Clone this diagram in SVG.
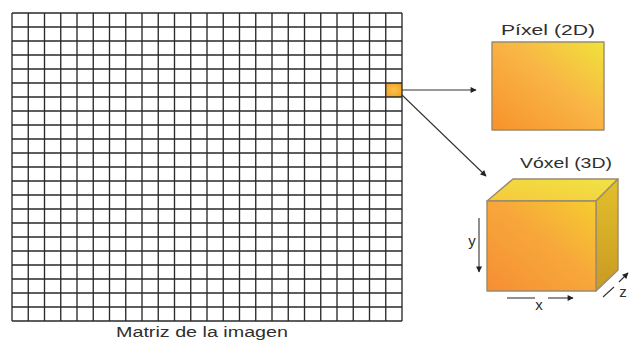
<svg xmlns="http://www.w3.org/2000/svg" width="630" height="341" viewBox="0 0 630 341">
<defs>
<style>
.grid{fill:none;stroke:#2a2a2a;stroke-width:1.35}
.lbl{font-family:"Liberation Sans",Arial,sans-serif;fill:#2f2f2f}
.conn{stroke:#333;stroke-width:1.1;fill:none}
.edge{stroke:#9c8b6c;stroke-width:1.4;stroke-linejoin:round}
</style>
<marker id="ah" viewBox="0 0 10 10" refX="9" refY="5" markerWidth="10" markerHeight="6" markerUnits="userSpaceOnUse" orient="auto">
<path d="M0 0L10 5L0 10z" fill="#222"/>
</marker>
<linearGradient id="gPix" x1="0" y1="1" x2="1" y2="0">
<stop offset="0" stop-color="#f7922a"/>
<stop offset="0.55" stop-color="#f9b545"/>
<stop offset="1" stop-color="#efe33a"/>
</linearGradient>
<linearGradient id="gFront" x1="0" y1="1" x2="1" y2="0">
<stop offset="0" stop-color="#f68e34"/>
<stop offset="0.55" stop-color="#f7a83a"/>
<stop offset="1" stop-color="#f6cd30"/>
</linearGradient>
<linearGradient id="gTop" x1="0" y1="1" x2="1" y2="0">
<stop offset="0" stop-color="#f6c93a"/>
<stop offset="1" stop-color="#f0e347"/>
</linearGradient>
<linearGradient id="gSide" x1="0" y1="0" x2="0" y2="1">
<stop offset="0" stop-color="#e2c02c"/>
<stop offset="1" stop-color="#c99a22"/>
</linearGradient>
<radialGradient id="gCell" cx="0.5" cy="0.5" r="0.7">
<stop offset="0" stop-color="#fbc44a"/>
<stop offset="1" stop-color="#f39a22"/>
</radialGradient>
</defs>

<g id="image-matrix">
<rect x="385.75" y="83" width="16.25" height="14" fill="url(#gCell)"/>
<path class="grid" d="M12 13V321M28.25 13V321M44.5 13V321M60.75 13V321M77 13V321M93.25 13V321M109.5 13V321M125.75 13V321M142 13V321M158.25 13V321M174.5 13V321M190.75 13V321M207 13V321M223.25 13V321M239.5 13V321M255.75 13V321M272 13V321M288.25 13V321M304.5 13V321M320.75 13V321M337 13V321M353.25 13V321M369.5 13V321M385.75 13V321M402 13V321
M12 13H402M12 27H402M12 41H402M12 55H402M12 69H402M12 83H402M12 97H402M12 111H402M12 125H402M12 139H402M12 153H402M12 167H402M12 181H402M12 195H402M12 209H402M12 223H402M12 237H402M12 251H402M12 265H402M12 279H402M12 293H402M12 307H402M12 321H402"/>
<text class="lbl" x="202" y="337" font-size="15.5" text-anchor="middle" textLength="172" lengthAdjust="spacingAndGlyphs">Matriz de la imagen</text>
</g>

<g id="pixel-2d">
<text class="lbl" x="548" y="35" font-size="14.5" text-anchor="middle" textLength="94" lengthAdjust="spacingAndGlyphs">Píxel (2D)</text>
<rect x="492" y="42" width="112" height="88" fill="url(#gPix)" class="edge"/>
</g>

<g id="voxel-3d">
<text class="lbl" x="566" y="168" font-size="14.5" text-anchor="middle" textLength="92" lengthAdjust="spacingAndGlyphs">Vóxel (3D)</text>
<polygon points="487,201 513,179 618,179 596,201" fill="url(#gTop)" class="edge"/>
<polygon points="596,201 618,179 618,270 596,291" fill="url(#gSide)" class="edge"/>
<rect x="487" y="201" width="109" height="90" fill="url(#gFront)" class="edge"/>
<g id="axes">
<line class="conn" x1="479" y1="218" x2="479" y2="272" marker-end="url(#ah)"/>
<text class="lbl" x="472" y="246" font-size="15" text-anchor="middle">y</text>
<line class="conn" x1="507" y1="298" x2="535" y2="298"/>
<line class="conn" x1="548" y1="298" x2="573" y2="298" marker-end="url(#ah)"/>
<text class="lbl" x="539" y="310" font-size="15" text-anchor="middle">x</text>
<line class="conn" x1="603" y1="297" x2="614" y2="287"/>
<line class="conn" x1="619" y1="282" x2="628" y2="273" marker-end="url(#ah)"/>
<text class="lbl" x="623" y="297" font-size="15" text-anchor="middle">z</text>
</g>
</g>

<g id="connectors">
<line class="conn" x1="402" y1="90" x2="476" y2="90" marker-end="url(#ah)"/>
<line class="conn" x1="402" y1="95" x2="486" y2="176" marker-end="url(#ah)"/>
</g>
</svg>
